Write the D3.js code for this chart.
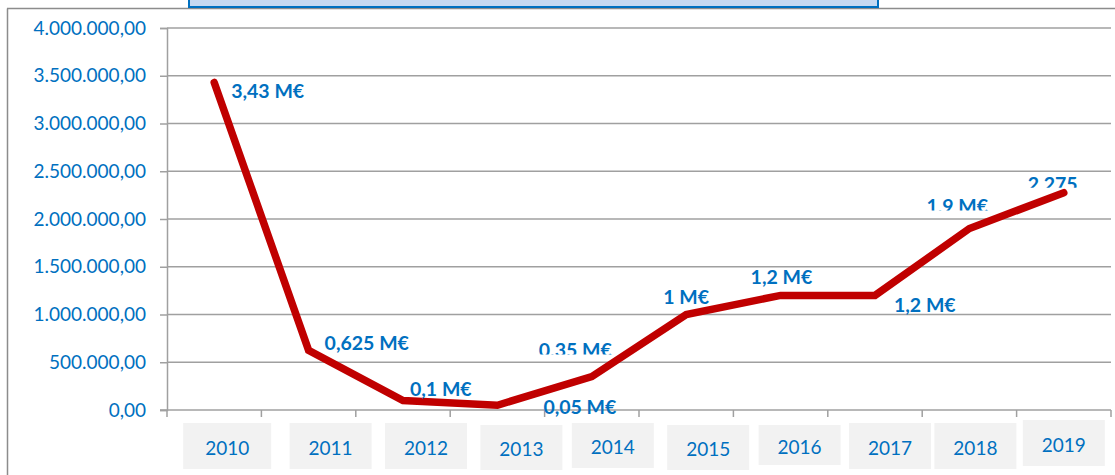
<!DOCTYPE html>
<html>
<head>
<meta charset="utf-8">
<script src="https://cdn.jsdelivr.net/npm/d3@7/dist/d3.min.js"></script>
<style>
  html, body { margin: 0; padding: 0; background: #fff; }
  svg { display: block; }
  text { font-family: Lato, "Open Sans", sans-serif; }
</style>
</head>
<body>
<svg id="chart" width="1115" height="475"></svg>
<script>
// ---- data ----
const years = ["2010","2011","2012","2013","2014","2015","2016","2017","2018","2019"];
const values = [3430000, 625000, 100000, 50000, 350000, 1000000, 1200000, 1200000, 1900000, 2275000];
const valueLabels = ["3,43 M€","0,625 M€","0,1 M€","0,05 M€","0,35 M€","1 M€","1,2 M€","1,2 M€","1,9 M€","2,275"];
const yTicks = [0, 500000, 1000000, 1500000, 2000000, 2500000, 3000000, 3500000, 4000000];

// ---- layout (style only) ----
const labelDx = [17, 16, 7, 46, -53, -23, -30, 19, -43, -36];
const labelDy = [8, -8, -12, 1, -27, -18, -19, 9, -23, -9];
const labelClip = [null, null, null, null, 5, null, null, null, 5, 4]; // visible px below centre
const boxDx = [13, 22, 23, 24, 21, 22, 19, 15, 6, 0];
const boxTop = [13, 13, 13, 15, 13, 15, 15, 13, 13, 10];
const boxH = [46, 46, 46, 45, 45, 45, 40, 46, 46, 46];
const boxW = [88, 82, 82, 82, 82, 82, 82, 82, 82, 82];

const blue = "#0070C0", red = "#C00000", grid = "#A0A0A0";
const svg = d3.select("#chart");

const x = d3.scaleBand().domain(years).range([167, 1111]).padding(0);
const y = d3.scaleLinear().domain([0, 4000000]).range([410, 28]);

const loc = d3.formatLocale({decimal: ",", thousands: ".", grouping: [3], currency: ["", "€"]});
const fmt = loc.format(",.2f");

// outer border
svg.append("line").attr("x1", 7.5).attr("x2", 7.5).attr("y1", 8.5).attr("y2", 475).attr("stroke", "#8C8C8C").attr("stroke-width", 1.5);
svg.append("line").attr("x1", 7).attr("x2", 1115).attr("y1", 8.5).attr("y2", 8.5).attr("stroke", "#8C8C8C").attr("stroke-width", 1.5);

// title box (cut off at top)
svg.append("rect").attr("x", 189).attr("y", -10).attr("width", 689).attr("height", 17)
  .attr("fill", "#C6D9F1").attr("stroke", blue).attr("stroke-width", 2);

// gridlines
svg.append("g").selectAll("line").data(yTicks.filter(d => d > 0)).join("line")
  .attr("x1", 167).attr("x2", 1111)
  .attr("y1", d => y(d)).attr("y2", d => y(d))
  .attr("stroke", grid).attr("stroke-width", 1.5);

// y axis
const yAxis = d3.axisLeft(y).tickValues(yTicks).tickFormat(fmt).tickSize(7).tickPadding(14);
const gy = svg.append("g").attr("transform", "translate(167,0)").call(yAxis);
gy.select(".domain").attr("stroke", grid).attr("stroke-width", 1.5);
gy.selectAll(".tick line").attr("stroke", grid).attr("stroke-width", 1.5);
gy.selectAll(".tick text").attr("fill", blue).style("font-size", "19px").style("font-family", "Lato, 'Open Sans', sans-serif");

// x axis line and ticks at band boundaries
svg.append("line").attr("x1", 160).attr("x2", 1111).attr("y1", y(0)).attr("y2", y(0)).attr("stroke", grid).attr("stroke-width", 1.5);
const bounds = years.map(d => x(d)).concat([x(years[years.length-1]) + x.bandwidth()]);
svg.append("g").selectAll("line").data(bounds).join("line")
  .attr("x1", d => d).attr("x2", d => d)
  .attr("y1", y(0)).attr("y2", y(0) + 7)
  .attr("stroke", grid).attr("stroke-width", 1.5);

// x labels in grey boxes
const xl = svg.append("g").selectAll("g").data(years).join("g")
  .attr("transform", (d, i) => `translate(${x(d) + x.bandwidth() / 2 + boxDx[i]},${y(0) + boxTop[i]})`);
xl.append("rect")
  .attr("x", (d, i) => -boxW[i] / 2).attr("y", 0)
  .attr("width", (d, i) => boxW[i]).attr("height", (d, i) => boxH[i])
  .attr("fill", "#F2F2F2");
xl.append("text")
  .attr("x", 0).attr("y", (d, i) => boxH[i] / 2 + 1)
  .attr("text-anchor", "middle").attr("dominant-baseline", "central")
  .attr("fill", blue).style("font-size", "19px")
  .text(d => d);

// line
const line = d3.line().x((d, i) => x(years[i]) + x.bandwidth() / 2).y(d => y(d));
svg.append("path").datum(values).attr("d", line)
  .attr("fill", "none").attr("stroke", red).attr("stroke-width", 7.5)
  .attr("stroke-linejoin", "miter").attr("stroke-linecap", "round");

// clip paths for partially hidden labels
const defs = svg.append("defs");
values.forEach((v, i) => {
  if (labelClip[i] != null) {
    const cx = x(years[i]) + x.bandwidth() / 2 + labelDx[i];
    const cy = y(v) + labelDy[i];
    defs.append("clipPath").attr("id", "clip" + i)
      .append("rect").attr("x", cx - 5).attr("y", cy - 30).attr("width", 120).attr("height", 30 + labelClip[i]);
  }
});

// data labels
svg.append("g").selectAll("text").data(values).join("text")
  .attr("x", (d, i) => x(years[i]) + x.bandwidth() / 2 + labelDx[i])
  .attr("y", (d, i) => y(d) + labelDy[i])
  .attr("dominant-baseline", "central")
  .attr("clip-path", (d, i) => labelClip[i] != null ? `url(#clip${i})` : null)
  .attr("fill", blue).style("font-size", "19.5px").style("font-weight", "bold")
  .text((d, i) => valueLabels[i]);
</script>
</body>
</html>
